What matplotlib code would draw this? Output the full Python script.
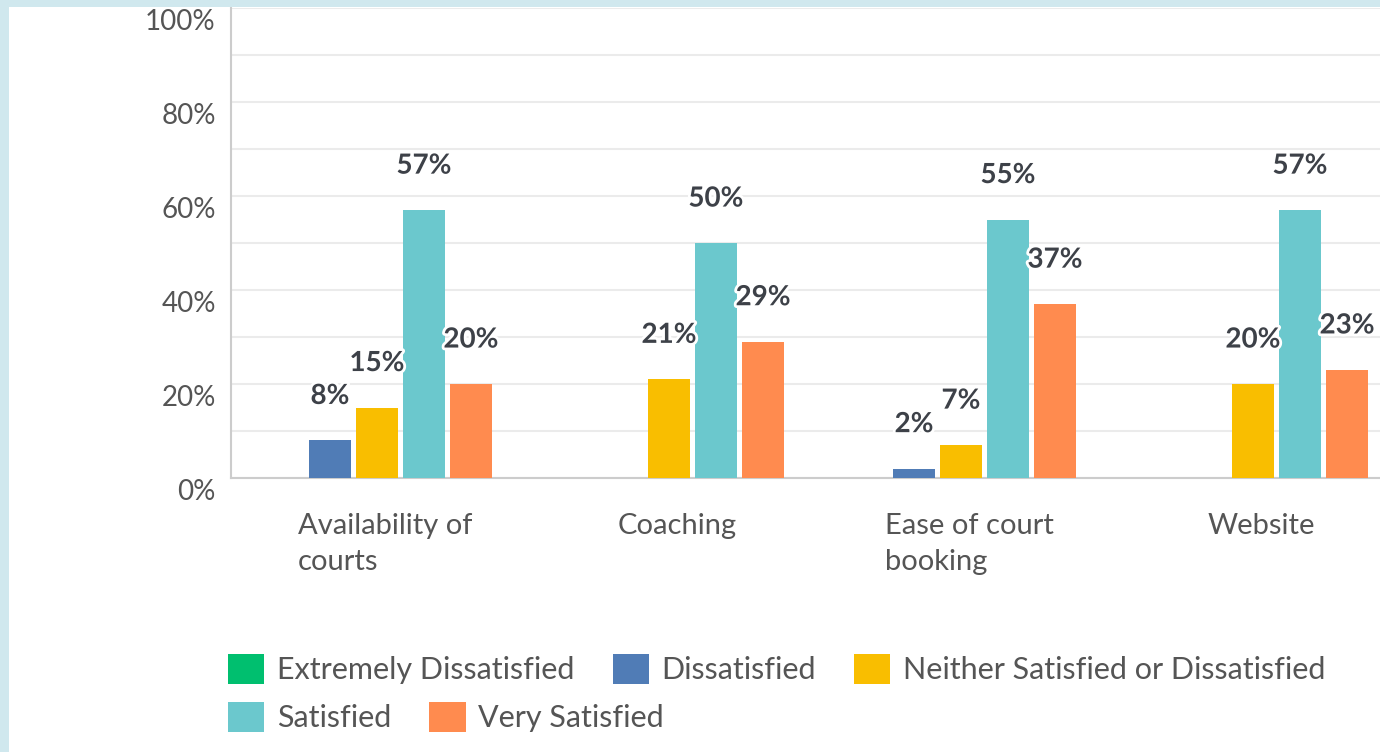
import numpy as np
import matplotlib
matplotlib.use("Agg")
import matplotlib.pyplot as plt
import matplotlib.patheffects as pe
from matplotlib.patches import Rectangle
from matplotlib.transforms import ScaledTranslation

# data
categories = ["Availability of\ncourts", "Coaching", "Ease of court\nbooking", "Website"]
series_names = ["Extremely Dissatisfied", "Dissatisfied",
                "Neither Satisfied or Dissatisfied", "Satisfied", "Very Satisfied"]
extremely_dissatisfied = [0, 0, 0, 0]
dissatisfied = [8, 0, 2, 0]
neither = [15, 21, 7, 20]
satisfied = [57, 50, 55, 57]
very_satisfied = [20, 29, 37, 23]
colors = ["#00bf6f", "#507cb6", "#f9be00", "#6bc8cd", "#ff8b4f"]

values = [extremely_dissatisfied, dissatisfied, neither, satisfied, very_satisfied]

plt.rcParams['font.family'] = ['Lato', 'DejaVu Sans']

fig = plt.figure(figsize=(13.8, 7.52), dpi=100)
fig.patch.set_facecolor("white")
ax = fig.add_axes([231 / 1380, 274 / 752, 1168 / 1380, 470 / 752])

x = np.arange(len(categories))
step = 47 / 292
width = 42 / 292
bars = []
for k, (name, vals, col) in enumerate(zip(series_names, values, colors)):
    b = ax.bar(x + (k - 2) * step, vals, width, color=col, label=name, zorder=3)
    bars.append(b)
    for rect, v in zip(b, vals):
        if v > 0:
            ax.annotate(f"{v}%", (rect.get_x() + rect.get_width() / 2, v),
                        xytext=(0, 32), textcoords="offset points",
                        ha="center", va="center", fontsize=20, fontweight="bold",
                        color="#3d4148",
                        path_effects=[pe.withStroke(linewidth=4, foreground="white")],
                        zorder=5)

ax.set_xlim(-0.5, 3.5)
ax.set_ylim(0, 100)
ax.set_yticks(range(0, 101, 20))
ax.set_yticks(range(0, 101, 10), minor=True)
ax.set_yticklabels([f"{t}%" for t in range(0, 101, 20)])
ax.grid(axis="y", which="both", color="#ebebeb", linewidth=1.5, zorder=0)
ax.set_axisbelow(True)

ax.set_xticks(x)
ax.set_xticklabels(categories, multialignment="left", linespacing=1.5)
ax.tick_params(axis="x", length=0, pad=25, labelsize=21, labelcolor="#555555")
ax.tick_params(axis="y", which="both", length=0, pad=11, labelsize=20, labelcolor="#555555")
for lbl in ax.get_yticklabels():
    lbl.set_transform(lbl.get_transform() + ScaledTranslation(0, -12 / 100, fig.dpi_scale_trans))
for lbl in ax.get_xticklabels():
    lbl.set_transform(lbl.get_transform() + ScaledTranslation(8 / 100, 0, fig.dpi_scale_trans))

for s in ["top", "right"]:
    ax.spines[s].set_visible(False)
ax.spines["left"].set_color("#cccccc")
ax.spines["bottom"].set_color("#cccccc")
ax.spines["left"].set_linewidth(1.5)
ax.spines["bottom"].set_linewidth(1.5)

# legend in two rows, flowing like the original
leg_kw = dict(frameon=False, loc="center left", bbox_transform=fig.transFigure,
              borderaxespad=0, borderpad=0, fontsize=22, handlelength=1.18,
              handleheight=1.18, handletextpad=0.42, columnspacing=1.25,
              labelcolor="#555555")
leg1 = fig.legend(bars[:3], series_names[:3], ncol=3,
                  bbox_to_anchor=(228 / 1380, 1 - 669 / 752), **leg_kw)
leg2 = fig.legend(bars[3:], series_names[3:], ncol=2,
                  bbox_to_anchor=(228 / 1380, 1 - 717 / 752), **leg_kw)

# light blue frame on the left and top
fig.add_artist(Rectangle((0, 0), 9 / 1380, 1, transform=fig.transFigure,
                         facecolor="#d0e8ee", edgecolor="none", zorder=10))
fig.add_artist(Rectangle((0, 1 - 7 / 752), 1, 7 / 752, transform=fig.transFigure,
                         facecolor="#d0e8ee", edgecolor="none", zorder=10))

fig.savefig("out.png", dpi=100, facecolor="white")
